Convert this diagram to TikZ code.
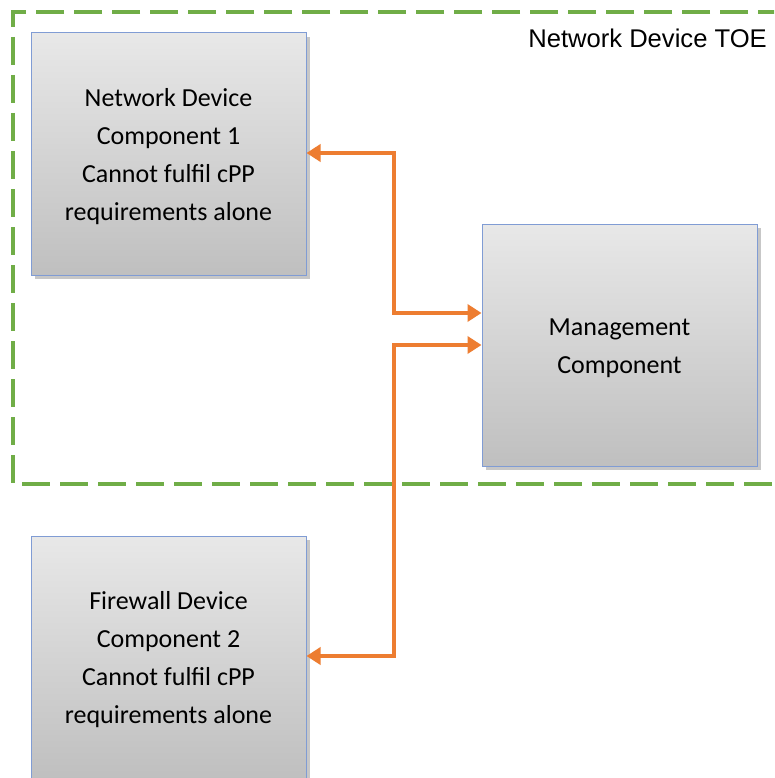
\documentclass[tikz,border=0pt]{standalone}
\usepackage{fontspec}
\setmainfont{Carlito}
\newfontfamily\toefont{Liberation Sans}
\usetikzlibrary{arrows.meta,shadows,calc}
\definecolor{toegreen}{RGB}{112,173,71}
\definecolor{arrorange}{RGB}{237,125,49}
\definecolor{boxblue}{RGB}{128,156,212}
\tikzset{
  compbox/.style={draw=boxblue, line width=1pt, top color=black!9, bottom color=black!25,
    minimum width=275pt, minimum height=242pt, inner sep=0pt,
    drop shadow={shadow xshift=4pt, shadow yshift=-4pt, opacity=0.22, fill=black}},
  boxtext/.style={align=center, font=\fontsize{26}{38}\selectfont, inner sep=0pt, yshift=-3pt},
  toeline/.style={draw=toegreen, line width=3.5pt, dash pattern=on 28pt off 10pt},
  conn/.style={draw=arrorange, line width=3.8pt,
    arrows={Triangle[length=14pt,width=17pt]-Triangle[length=14pt,width=17pt]}},
  toelabel/.style={font=\toefont\fontsize{25.6}{30}\selectfont, anchor=east, inner sep=0pt}
}
\begin{document}
\begin{tikzpicture}[x=1pt,y=-1pt]
\useasboundingbox (0,0) rectangle (774,778);
\clip (0,0) rectangle (774,778);
\fill[white] (0,0) rectangle (774,778);
\draw[toeline] (900,12) -- (13,12) -- (13,484) -- (900,484);
\node[toelabel] (toe) at (767,38) {Network Device TOE};
\node[compbox, label={[boxtext]center:Network Device\\Component 1\\Cannot fulfil cPP\\requirements alone}] (b1) at (168.5,154) {};
\node[compbox, label={[boxtext]center:Management\\Component}] (mg) at (619.5,345) {};
\node[compbox, label={[boxtext]center:Firewall Device\\Component 2\\Cannot fulfil cPP\\requirements alone}] (fw) at (168.5,657) {};
\coordinate (bendA) at (394,153);
\coordinate (bendB) at (394,656);
\draw[conn] (b1.east |- bendA) -- (bendA) |- (mg.west |- 0,313);
\draw[conn] (fw.east |- bendB) -- (bendB) |- (mg.west |- 0,345);
\end{tikzpicture}
\end{document}
